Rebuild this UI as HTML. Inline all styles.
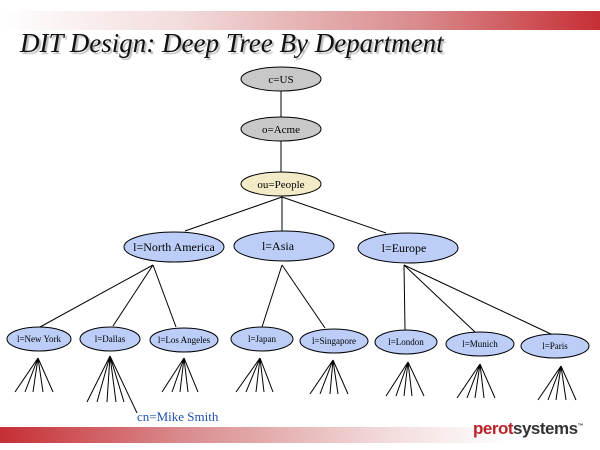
<!DOCTYPE html>
<html><head><style>
body{margin:0;width:600px;height:450px;background:#fff;overflow:hidden;position:relative;font-family:"Liberation Serif",serif}
.top{position:absolute;left:0;top:11px;width:600px;height:19px;background:linear-gradient(to right,#fff 0%,#f3dcdc 30%,#d98a8c 70%,#c62f35 100%)}
.bot{position:absolute;left:0;top:427px;width:600px;height:16px;background:linear-gradient(to right,#c62f35 0%,#d98a8c 30%,#f3dcdc 65%,#fff 85%)}
.title{position:absolute;left:20px;top:28px;font-style:italic;font-size:27px;color:#111;text-shadow:2px 2px 1px #bbb;white-space:nowrap}
.logo{position:absolute;left:473px;top:419px;font-family:"Liberation Sans",sans-serif;font-weight:bold;font-size:17px;letter-spacing:-0.5px;color:#333}
.logo span{color:#b8232b}
</style></head><body>
<div class="top"></div><div class="bot"></div>
<div class="title">DIT Design: Deep Tree By Department</div>
<div class="logo"><span>perot</span>systems<sup style="font-size:6px">™</sup></div>
<svg width="600" height="450" style="position:absolute;left:0;top:0" font-family="Liberation Serif, serif" font-size="10">
<g stroke="#000" stroke-width="1" fill="none">
<line x1="281" y1="91" x2="281" y2="117"/>
<line x1="281" y1="141" x2="281" y2="172"/>
<line x1="282" y1="197" x2="185" y2="231"/>
<line x1="282" y1="197" x2="282" y2="231"/>
<line x1="282" y1="197" x2="386" y2="233"/>
<line x1="153" y1="265" x2="40" y2="327"/>
<line x1="153" y1="265" x2="113" y2="326"/>
<line x1="153" y1="265" x2="176" y2="327"/>
<line x1="282" y1="265" x2="262" y2="327"/>
<line x1="282" y1="265" x2="325" y2="328"/>
<line x1="404" y1="265" x2="405" y2="330"/>
<line x1="404" y1="265" x2="475" y2="332"/>
<line x1="404" y1="265" x2="553" y2="335"/>
<line x1="110" y1="356" x2="137" y2="413"/>
</g>
<g stroke="#000" stroke-width="1">
<ellipse cx="281" cy="79" rx="40" ry="12" fill="#c8c8c8"/>
<ellipse cx="281" cy="129" rx="40" ry="12" fill="#c8c8c8"/>
<ellipse cx="281" cy="184" rx="40" ry="12" fill="#f3ebc7"/>
<ellipse cx="174" cy="247" rx="50" ry="15" fill="#bccdf7"/>
<ellipse cx="284" cy="246" rx="50" ry="15" fill="#bccdf7"/>
<ellipse cx="408" cy="248" rx="50" ry="15" fill="#bccdf7"/>
<ellipse cx="39" cy="339" rx="32" ry="12" fill="#bccdf7"/>
<ellipse cx="110" cy="339" rx="30" ry="12" fill="#bccdf7"/>
<ellipse cx="184" cy="340" rx="34" ry="12" fill="#bccdf7"/>
<ellipse cx="262" cy="339" rx="31" ry="12" fill="#bccdf7"/>
<ellipse cx="334" cy="341" rx="34" ry="12" fill="#bccdf7"/>
<ellipse cx="406" cy="342" rx="31" ry="12" fill="#bccdf7"/>
<ellipse cx="480" cy="344" rx="34" ry="12" fill="#bccdf7"/>
<ellipse cx="555" cy="346" rx="34" ry="12" fill="#bccdf7"/>
</g>
<g fill="#000" text-anchor="middle">
<text x="281" y="83" font-size="11">c=US</text>
<text x="281" y="133" font-size="11">o=Acme</text>
<text x="281" y="188" font-size="11">ou=People</text>
<text x="174" y="251" font-size="12">l=North America</text>
<text x="278" y="250" font-size="12">l=Asia</text>
<text x="404" y="252" font-size="12">l=Europe</text>
<text x="39" y="342" font-size="9">l=New York</text>
<text x="110" y="342" font-size="9">l=Dallas</text>
<text x="184" y="343" font-size="9">l=Los Angeles</text>
<text x="262" y="342" font-size="9">l=Japan</text>
<text x="334" y="344" font-size="9">l=Singapore</text>
<text x="406" y="345" font-size="9">l=London</text>
<text x="480" y="347" font-size="9">l=Munich</text>
<text x="555" y="349" font-size="9">l=Paris</text>
</g>
<text x="137" y="421" font-size="13" fill="#1f4fb0">cn=Mike Smith</text>
<g stroke="#000" stroke-width="1">
<path d="M38 358L15 392M38 358L25 392M38 358L33 392M38 358L43 392M38 358L53 392"/>
<path d="M110 356L87 402M110 356L97 402M110 356L107 402M110 356L116 402M110 356L124 402"/>
<path d="M184 358L162 392M184 358L172 392M184 358L180 392M184 358L188 392M184 358L198 392"/>
<path d="M260 358L236 392M260 358L246 392M260 358L256 392M260 358L264 392M260 358L273 392"/>
<path d="M333 360L310 394M333 360L320 394M333 360L330 394M333 360L338 394M333 360L348 394"/>
<path d="M408 362L386 396M408 362L396 396M408 362L404 396M408 362L412 396M408 362L424 396"/>
<path d="M480 364L457 398M480 364L467 398M480 364L475 398M480 364L484 398M480 364L495 398"/>
<path d="M561 366L538 400M561 366L548 400M561 366L556 400M561 366L566 400M561 366L576 400"/>
</g>
</svg>
</body></html>
